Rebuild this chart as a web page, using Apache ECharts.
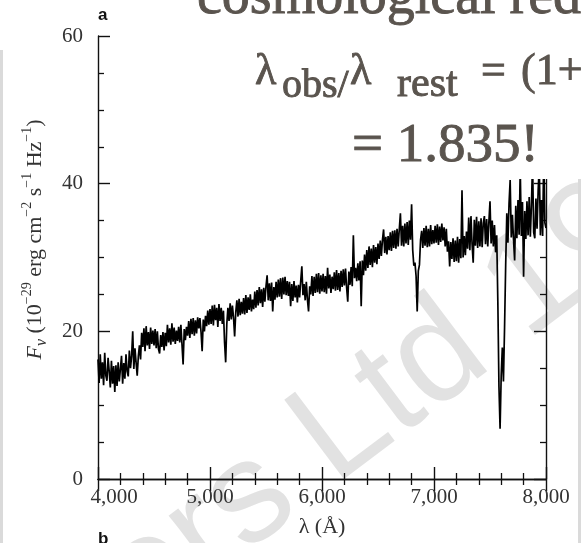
<!DOCTYPE html>
<html>
<head>
<meta charset="utf-8">
<script src="https://cdn.jsdelivr.net/npm/echarts@6/dist/echarts.min.js"></script>
<style>
  html, body { margin: 0; padding: 0; background: #fff; }
  #chart { width: 581px; height: 543px; }
</style>
</head>
<body>
<div id="chart"></div>
<script>
// Optical spectrum of the afterglow, F_nu versus observed wavelength, sampled every 10 Å.
const lambdaStart = 4000;
const lambdaStep = 10;

const flux = [
  // 4000–4090
  16.2, 13.0, 16.9, 13.6, 15.8, 12.7, 17.1, 14.0, 13.3, 16.4,
  // 4100–4190
  14.6, 12.4, 16.0, 12.9, 15.3, 11.8, 15.4, 12.6, 15.8, 13.2,
  // 4200–4290
  14.9, 16.7, 12.9, 15.7, 13.6, 16.9, 14.6, 13.9, 17.4, 15.0,
  // 4300–4390
  16.6, 20.0, 14.9, 17.7, 15.8, 14.0, 16.6, 18.1, 16.2, 19.8,
  // 4400–4490
  17.9, 20.4, 17.3, 20.7, 18.1, 19.9, 17.6, 20.5, 18.3, 20.1,
  // 4500–4590
  18.1, 20.3, 17.7, 20.0, 17.6, 17.0, 19.5, 17.9, 19.9, 17.4,
  // 4600–4690
  19.8, 18.0, 20.9, 18.5, 20.4, 18.2, 21.1, 18.6, 20.5, 18.3,
  // 4700–4790
  20.1, 18.7, 20.6, 18.5, 20.9, 18.2, 15.5, 20.3, 18.8, 20.6,
  // 4800–4890
  19.4, 21.4, 19.1, 21.7, 19.6, 21.8, 19.4, 21.5, 19.7, 21.9,
  // 4900–4990
  20.4, 21.8, 19.9, 17.3, 21.6, 20.0, 22.1, 20.7, 22.8, 20.9,
  // 5000–5090
  23.0, 21.0, 23.5, 20.8, 23.6, 21.5, 23.2, 20.6, 23.7, 21.4,
  // 5100–5190
  23.2, 21.0, 22.8, 18.5, 15.8, 21.0, 23.2, 21.4, 23.8, 21.6,
  // 5200–5290
  23.5, 21.9, 19.3, 22.6, 24.2, 22.0, 24.4, 22.2, 24.0, 22.4,
  // 5300–5390
  24.5, 22.3, 24.9, 22.5, 24.6, 22.9, 25.0, 22.7, 24.3, 23.0,
  // 5400–5490
  25.4, 23.2, 25.6, 23.5, 26.0, 23.8, 25.7, 23.3, 25.9, 24.0,
  // 5500–5590
  26.1, 27.6, 24.2, 26.5, 24.1, 26.6, 22.7, 26.0, 24.3, 26.7,
  // 5600–5690
  24.6, 27.0, 24.7, 27.2, 24.4, 27.3, 25.0, 27.4, 24.9, 26.8,
  // 5700–5790
  24.8, 26.7, 23.4, 26.4, 24.1, 26.8, 24.6, 26.2, 23.9, 26.3,
  // 5800–5890
  24.6, 26.8, 28.8, 24.9, 26.4, 24.2, 26.7, 24.3, 22.7, 26.1,
  // 5900–5990
  25.0, 27.5, 24.8, 27.4, 25.2, 27.8, 25.3, 27.9, 25.1, 27.6,
  // 6000–6090
  25.4, 27.8, 25.3, 27.5, 25.1, 28.6, 25.8, 27.7, 25.2, 27.4,
  // 6100–6190
  25.7, 28.0, 25.5, 28.3, 25.6, 27.9, 25.4, 28.2, 26.0, 28.4,
  // 6200–6290
  26.2, 28.5, 25.9, 24.0, 28.1, 26.3, 28.7, 26.1, 33.0, 27.2,
  // 6300–6390
  28.6, 26.8, 29.2, 26.9, 29.5, 23.4, 29.6, 27.6, 30.4, 28.2,
  // 6400–6490
  31.0, 28.6, 31.5, 29.0, 31.2, 28.7, 31.7, 29.3, 31.4, 29.1,
  // 6500–6590
  31.9, 29.8, 32.3, 30.2, 32.4, 33.8, 30.6, 32.8, 30.4, 32.9,
  // 6600–6690
  31.0, 33.4, 30.9, 33.6, 31.3, 33.7, 31.2, 33.9, 31.5, 33.8,
  // 6700–6790
  36.0, 31.6, 34.3, 31.5, 34.6, 31.9, 34.8, 31.7, 35.0, 32.4,
  // 6800–6890 (atmospheric B band)
  37.2, 31.0, 28.9, 29.3, 27.5, 22.7, 28.2, 29.0, 32.4, 33.6,
  // 6900–6990
  31.3, 34.0, 31.6, 34.3, 31.4, 33.9, 31.5, 34.4, 31.8, 33.7,
  // 7000–7090
  31.9, 34.3, 32.0, 34.5, 31.7, 34.2, 32.1, 34.6, 32.3, 34.1,
  // 7100–7190
  31.5, 33.9, 30.8, 32.2, 28.8, 32.1, 29.8, 32.6, 29.4, 32.3,
  // 7200–7290
  29.5, 32.8, 29.3, 32.5, 29.9, 39.1, 30.0, 32.9, 30.3, 33.5,
  // 7300–7390
  31.2, 35.4, 31.0, 35.6, 31.8, 29.3, 35.1, 31.6, 35.5, 31.3,
  // 7400–7490
  34.9, 31.5, 35.3, 31.4, 34.7, 35.6, 31.8, 35.2, 31.5, 34.8,
  // 7500–7590 (atmospheric A band)
  37.6, 31.9, 35.0, 31.5, 34.4, 30.7, 33.0, 24.0, 12.5, 6.8,
  // 7600–7690
  14.0, 17.8, 13.2, 20.5, 29.0, 36.0, 32.0, 37.3, 40.5, 32.7,
  // 7700–7790
  35.8, 32.4, 29.6, 37.0, 32.6, 37.8, 33.1, 42.0, 32.9, 37.5,
  // 7800–7890
  27.4, 36.3, 32.5, 37.6, 33.0, 38.2, 32.8, 37.1, 43.0, 33.4,
  // 7900–7990
  32.6, 38.0, 33.9, 39.1, 42.5, 33.0, 37.8, 32.9, 44.0, 34.7,
  // 8000
  34.0
];

const xTicks = [4000, 5000, 6000, 7000, 8000];
const yTicks = [0, 20, 40, 60];

const serif = '"Liberation Serif", "Times New Roman", serif';
const inkColor = '#5a544e';

const spectrum = flux.map((f, i) => [lambdaStart + i * lambdaStep, f]);

const chart = echarts.init(document.getElementById('chart'), null, { renderer: 'canvas' });

const axisCommon = {
  axisLine: { show: true, lineStyle: { color: '#111', width: 1.4 } },
  axisTick: { show: true, inside: true, length: 12, lineStyle: { color: '#111', width: 1.4 } },
  minorTick: { show: true, length: 6, lineStyle: { color: '#111', width: 1.3 } },
  splitLine: { show: false }
};

// caption text drawn in the overlay panel
function caption(text, x, y, size) {
  return {
    type: 'text', x: x, y: y, z: 101,
    style: {
      text: text, font: size + 'px ' + serif, fill: inkColor,
      stroke: inkColor, lineWidth: 0.9,
      textVerticalAlign: 'middle', verticalAlign: 'middle'
    }
  };
}

const option = {
  animation: false,
  backgroundColor: '#fff',
  grid: { left: 98, right: 35, top: 36, bottom: 63, containLabel: false },
  xAxis: [
    Object.assign({}, axisCommon, {
      type: 'value',
      position: 'bottom',
      min: xTicks[0],
      max: xTicks[xTicks.length - 1],
      interval: 1000,
      minorTick: Object.assign({}, axisCommon.minorTick, { splitNumber: 5 }),
      axisLabel: {
        margin: 8,
        color: '#333',
        fontFamily: serif,
        fontSize: 21,
        formatter: function (v) {
          const s = v.toLocaleString('en-US');
          return v === xTicks[0] ? '{first|' + s + '}' : s;
        },
        rich: {
          first: { fontFamily: serif, fontSize: 21, color: '#333', padding: [0, 0, 0, 32] }
        }
      },
      name: 'λ (Å)',
      nameLocation: 'middle',
      nameGap: 37,
      nameTextStyle: { fontFamily: serif, fontSize: 22, color: '#333' }
    }),
    Object.assign({}, axisCommon, {
      type: 'value',
      position: 'top',
      min: xTicks[0],
      max: xTicks[xTicks.length - 1],
      interval: 1000,
      minorTick: Object.assign({}, axisCommon.minorTick, { splitNumber: 5 }),
      axisLabel: { show: false }
    })
  ],
  yAxis: [
    Object.assign({}, axisCommon, {
      type: 'value',
      position: 'left',
      min: yTicks[0],
      max: yTicks[yTicks.length - 1],
      interval: 20,
      minorTick: Object.assign({}, axisCommon.minorTick, { splitNumber: 4 }),
      axisLabel: { margin: 15, color: '#333', fontFamily: serif, fontSize: 21 },
      name: '{fi|F}{nu|ν}{t| (10}{sp|−29}{t| erg cm}{sp|−2}{t| s}{sp|−1}{t| Hz}{sp|−1}{t|)}',
      nameLocation: 'middle',
      nameGap: 48,
      nameTextStyle: {
        color: '#333',
        padding: [0, 0, 0, 36],
        rich: {
          t: { fontFamily: serif, fontSize: 22, lineHeight: 30, color: '#333' },
          fi: { fontFamily: serif, fontStyle: 'italic', fontSize: 22, lineHeight: 30, color: '#333' },
          nu: { fontFamily: serif, fontStyle: 'italic', fontSize: 16, lineHeight: 16, verticalAlign: 'bottom', color: '#333' },
          sp: { fontFamily: serif, fontSize: 14, lineHeight: 14, verticalAlign: 'top', color: '#333' }
        }
      }
    }),
    Object.assign({}, axisCommon, {
      type: 'value',
      position: 'right',
      min: yTicks[0],
      max: yTicks[yTicks.length - 1],
      interval: 20,
      minorTick: Object.assign({}, axisCommon.minorTick, { splitNumber: 4 }),
      axisLabel: { show: false }
    })
  ],
  series: [{
    type: 'line',
    data: spectrum,
    xAxisIndex: 0,
    yAxisIndex: 0,
    showSymbol: false,
    symbol: 'none',
    sampling: false,
    lineStyle: { color: '#000', width: 1.7 },
    z: 5
  }],
  graphic: {
    elements: [
      // faint publisher watermark behind the plot
      {
        type: 'text', x: 250, y: 500, z: -10, silent: true,
        rotation: 37 * Math.PI / 180,
        style: {
          text: 'Publishers Ltd 1997',
          font: '144px "Liberation Sans", Arial, sans-serif',
          fill: '#e2e2e2',
          textAlign: 'center', align: 'center',
          textVerticalAlign: 'middle', verticalAlign: 'middle'
        }
      },
      // panel letters
      {
        type: 'text', x: 98, y: 7, z: 50,
        style: { text: 'a', font: 'bold 17px "Liberation Sans", Arial, sans-serif', fill: '#111',
                 textVerticalAlign: 'top', verticalAlign: 'top' }
      },
      {
        type: 'text', x: 98, y: 531, z: 50,
        style: { text: 'b', font: 'bold 17px "Liberation Sans", Arial, sans-serif', fill: '#111',
                 textVerticalAlign: 'top', verticalAlign: 'top' }
      },
      // thin grey page edges
      { type: 'rect', z: 50, shape: { x: 0, y: 50, width: 3, height: 493 }, style: { fill: '#dadada' } },
      { type: 'rect', z: 50, shape: { x: 578, y: 177, width: 3, height: 366 }, style: { fill: '#dadada' } },
      // white caption panel laid over the top right of the figure
      { type: 'rect', z: 100, shape: { x: 141, y: 0, width: 440, height: 179 }, style: { fill: '#fff' } },
      caption('cosmological redshift', 197, -2, 56),
      caption('λ', 255, 72, 44),
      caption('obs/', 282, 86, 40),
      caption('λ', 350, 72, 44),
      caption('rest', 397, 85, 42),
      caption('=', 481, 72, 44),
      caption('(1+z)', 521, 72, 44),
      caption('= 1.835!', 352, 147, 55)
    ]
  }
};

chart.setOption(option);
</script>
</body>
</html>
